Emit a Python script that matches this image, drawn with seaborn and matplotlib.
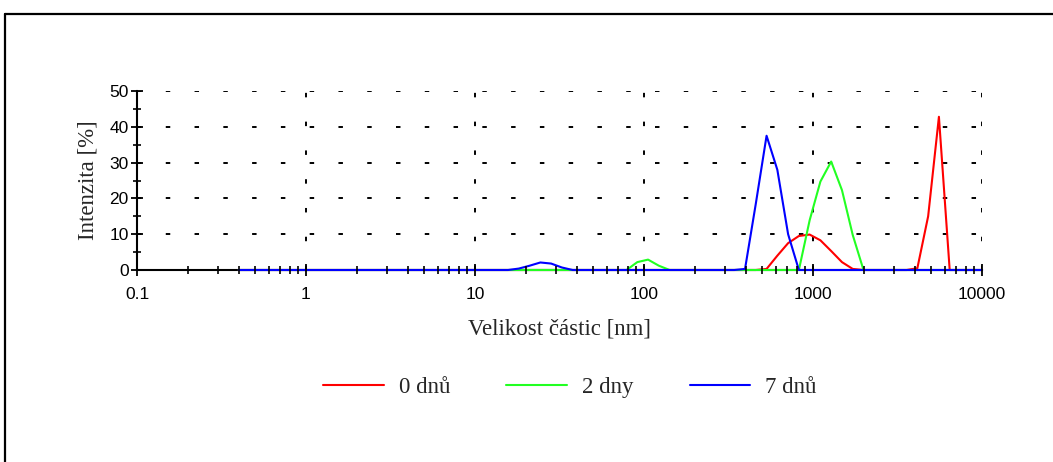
import matplotlib
matplotlib.use("Agg")
import matplotlib.pyplot as plt
from matplotlib.lines import Line2D
from matplotlib.ticker import FixedLocator, NullFormatter
import seaborn as sns
import pandas as pd

# ---- data -------------------------------------------------------------
sizes_nm = [0.4, 0.4632, 0.5365, 0.6213, 0.7195, 0.8332, 0.9649, 1.117, 1.294, 1.499,
            1.736, 2.010, 2.328, 2.696, 3.122, 3.615, 4.187, 4.849, 5.615, 6.503,
            7.531, 8.721, 10.10, 11.70, 13.54, 15.69, 18.17, 21.04, 24.36, 28.21,
            32.67, 37.84, 43.82, 50.75, 58.77, 68.06, 78.82, 91.28, 105.7, 122.4,
            141.8, 164.2, 190.1, 220.2, 255.0, 295.3, 342.0, 396.1, 458.7, 531.2,
            615.1, 712.4, 825.0, 955.4, 1106, 1281, 1484, 1718, 1990, 2305,
            2669, 3091, 3580, 4145, 4801, 5560, 6439, 7456, 8635, 10000]

int_0_dnu = [0, 0, 0, 0, 0, 0, 0, 0, 0, 0,
             0, 0, 0, 0, 0, 0, 0, 0, 0, 0,
             0, 0, 0, 0, 0, 0, 0, 0, 0, 0,
             0, 0, 0, 0, 0, 0, 0, 0, 0, 0,
             0, 0, 0, 0, 0, 0, 0, 0, 0, 0.3,
             4.0, 7.5, 9.5, 9.9, 8.3, 5.3, 2.2, 0.3, 0, 0,
             0, 0, 0, 0.5, 15.0, 42.8, 0, 0, 0, 0]

int_2_dny = [0, 0, 0, 0, 0, 0, 0, 0, 0, 0,
             0, 0, 0, 0, 0, 0, 0, 0, 0, 0,
             0, 0, 0, 0, 0, 0, 0, 0, 0, 0,
             0, 0, 0, 0, 0, 0, 0, 2.2, 2.9, 1.2,
             0, 0, 0, 0, 0, 0, 0, 0, 0, 0,
             0, 0, 0, 13.9, 24.7, 30.3, 22.3, 9.8, 0, 0,
             0, 0, 0, 0, 0, 0, 0, 0, 0, 0]

int_7_dnu = [0, 0, 0, 0, 0, 0, 0, 0, 0, 0,
             0, 0, 0, 0, 0, 0, 0, 0, 0, 0,
             0, 0, 0, 0, 0, 0, 0.4, 1.2, 2.1, 1.8,
             0.7, 0, 0, 0, 0, 0, 0, 0, 0, 0,
             0, 0, 0, 0, 0, 0, 0, 0.3, 18.5, 37.5,
             28.0, 10.0, 0, 0, 0, 0, 0, 0, 0, 0,
             0, 0, 0, 0, 0, 0, 0, 0, 0, 0]

series_names = ["0 dnů", "2 dny", "7 dnů"]
series_colors = ["#ff0000", "#22ff22", "#0000ff"]
x_ticks = [0.1, 1, 10, 100, 1000, 10000]
x_tick_labels = ["0.1", "1", "10", "100", "1000", "10000"]
y_ticks = [0, 10, 20, 30, 40, 50]
y_minor_ticks = [5, 15, 25, 35, 45]

# ---- style -------------------------------------------------------------
sns.set_style("white")
plt.rcParams["font.family"] = ["Liberation Sans", "DejaVu Sans"]

df = pd.concat([
    pd.DataFrame({"size": sizes_nm, "intensity": vals, "series": name})
    for name, vals in zip(series_names, [int_0_dnu, int_2_dny, int_7_dnu])
], ignore_index=True)

fig = plt.figure(figsize=(10.53, 4.62), dpi=100)
ax = fig.add_axes([137 / 1053, 1 - 270 / 462, (982 - 137) / 1053, (270 - 91) / 462])

# frame around the figure (top and left edges visible)
fig.add_artist(Line2D([5 / 1053, 1.0], [1 - 14 / 462, 1 - 14 / 462],
                      transform=fig.transFigure, color="black", lw=1.6))
fig.add_artist(Line2D([5 / 1053, 5 / 1053], [0.0, 1 - 14 / 462],
                      transform=fig.transFigure, color="black", lw=1.6))

sns.lineplot(data=df, x="size", y="intensity", hue="series",
             hue_order=series_names, palette=dict(zip(series_names, series_colors)),
             linewidth=1.5, ax=ax, legend=False, estimator=None, sort=False,
             zorder=3, clip_on=False)

ax.set_xscale("log")
ax.set_xlim(0.1, 10000)
ax.set_ylim(0, 50)

# grid: dashed black, majors only
for yv in y_ticks[1:]:
    ax.axhline(yv, color="black", lw=1.4, dashes=(2.3, 12.5), zorder=1)
for xv in x_ticks[1:]:
    ax.axvline(xv, color="black", lw=1.4, dashes=(2.3, 12.5), zorder=1)

for side in ["top", "right"]:
    ax.spines[side].set_visible(False)
for side in ["left", "bottom"]:
    ax.spines[side].set_color("black")
    ax.spines[side].set_linewidth(1.5)
    ax.spines[side].set_zorder(2.5)

minor_x = [d * m for d in x_ticks[:-1] for m in range(2, 10)]
ax.xaxis.set_major_locator(FixedLocator(x_ticks))
ax.set_xticklabels(x_tick_labels)
ax.xaxis.set_minor_locator(FixedLocator(minor_x))
ax.xaxis.set_minor_formatter(NullFormatter())
ax.yaxis.set_major_locator(FixedLocator(y_ticks))
ax.yaxis.set_minor_locator(FixedLocator(y_minor_ticks))
ax.xaxis.set_zorder(4)
ax.yaxis.set_zorder(4)

ax.tick_params(axis="both", which="both", bottom=True, left=True, top=False, right=False)
ax.tick_params(axis="both", which="major", direction="inout", length=8, width=1.3,
               colors="black", labelsize=12.5)
ax.tick_params(axis="both", which="minor", direction="inout", length=6, width=1.2,
               colors="black")
ax.tick_params(axis="x", which="major", pad=8)
ax.tick_params(axis="y", which="major", pad=2)

serif = ["Liberation Serif", "DejaVu Serif"]
ax.set_xlabel("Velikost částic [nm]", family=serif, fontsize=16.5, labelpad=12)
ax.set_ylabel("Intenzita [%]", family=serif, fontsize=16.5, labelpad=8)

handles = [Line2D([], [], color=c, lw=1.5) for c in series_colors]
leg = ax.legend(handles, series_names, loc="center",
                bbox_to_anchor=(570 / 1053, 1 - 387 / 462), bbox_transform=fig.transFigure,
                ncol=3, frameon=False, handlelength=2.65, handletextpad=0.65,
                columnspacing=2.45, prop={"family": serif, "size": 16.5})

fig.savefig("out.png", dpi=100)
